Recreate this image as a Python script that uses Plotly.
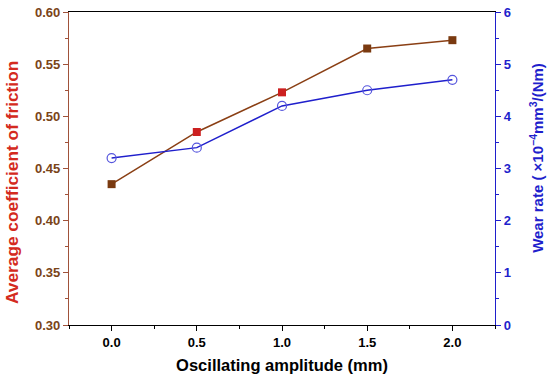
import plotly.graph_objects as go

amplitude = [0.0, 0.5, 1.0, 1.5, 2.0]
friction = [0.435, 0.485, 0.523, 0.565, 0.573]
wear_rate = [3.2, 3.4, 4.2, 4.5, 4.7]

x_ticks = [0.0, 0.5, 1.0, 1.5, 2.0]
x_ticklabels = ["0.0", "0.5", "1.0", "1.5", "2.0"]

brown = "#8a3f14"
red_title = "#d42a20"
blue = "#1f1fcc"
font = "Liberation Sans, Arial, sans-serif"

fig = go.Figure()
fig.add_trace(go.Scatter(
    x=amplitude, y=friction, mode="lines+markers",
    line=dict(color=brown, width=1.5),
    marker=dict(symbol="square", size=8,
                color=["#7a3a10", "#cc2020", "#cc2020", "#7a3a10", "#7a3a10"],
                line=dict(width=0)),
    showlegend=False, yaxis="y"))
fig.add_trace(go.Scatter(
    x=amplitude, y=wear_rate, mode="lines+markers",
    line=dict(color=blue, width=1.5),
    marker=dict(symbol="circle-open", size=9, color="#5555dd", line=dict(width=1.2)),
    showlegend=False, yaxis="y2"))

fig.update_layout(
    width=550, height=382,
    margin=dict(l=69, r=55, t=12, b=57),
    plot_bgcolor="white", paper_bgcolor="white",
    font=dict(family=font),
    xaxis=dict(
        range=[-0.25, 2.25], tickvals=x_ticks, ticktext=x_ticklabels,
        showgrid=False, zeroline=False, automargin=False,
        showline=True, linecolor="black", linewidth=1.2, mirror=True,
        ticks="outside", ticklen=5, tickcolor="black",
        minor=dict(dtick=0.25, tick0=-0.25, ticks="outside", ticklen=3, tickcolor="black"),
        tickfont=dict(size=13, color="black", family=font, weight="bold"),
        title=dict(text="<b>Oscillating amplitude (mm)</b>",
                   font=dict(size=16.5, color="black", family=font), standoff=10),
    ),
    yaxis=dict(
        range=[0.30, 0.60], dtick=0.05, tick0=0.30, tickformat=".2f",
        showgrid=False, zeroline=False, automargin=False,
        showline=True, linecolor="#a0523a", linewidth=1.2,
        ticks="outside", ticklen=5, tickcolor="#a0523a",
        minor=dict(dtick=0.025, ticks="outside", ticklen=3, tickcolor="#a0523a"),
        tickfont=dict(size=13, color="#7a4418", family=font, weight="bold"),
    ),
    yaxis2=dict(
        range=[0, 6], dtick=1, overlaying="y", side="right",
        showgrid=False, zeroline=False, automargin=False,
        showline=True, linecolor=blue, linewidth=1.2,
        ticks="outside", ticklen=5, tickcolor=blue,
        minor=dict(dtick=0.5, ticks="outside", ticklen=3, tickcolor=blue),
        tickfont=dict(size=13, color=blue, family=font, weight="bold"),
    ),
    annotations=[
        dict(text="<b>Average coefficient of friction</b>", textangle=-90,
             xref="paper", yref="paper", x=-0.1338, y=0.4537,
             xanchor="center", yanchor="middle", showarrow=False,
             font=dict(size=17.3, color=red_title, family=font)),
        dict(text="<b>Wear rate ( ×10<sup>−4</sup>mm<sup>3</sup>/(Nm)</b>", textangle=-90,
             xref="paper", yref="paper", x=1.0986, y=0.534,
             xanchor="center", yanchor="middle", showarrow=False,
             font=dict(size=15, color=blue, family=font)),
    ],
)

fig.write_html("out.html", config={"displayModeBar": False},
               post_script="document.body.style.margin='0';")
